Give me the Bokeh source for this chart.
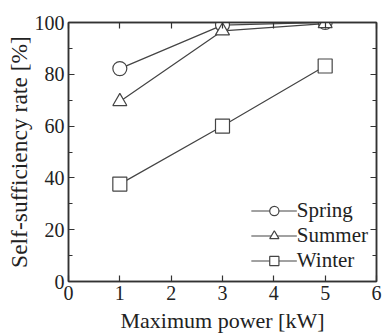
from bokeh.plotting import figure
from bokeh.models import LinearAxis, FixedTicker, Range1d, Legend, CustomJSTickFormatter
from bokeh.embed import file_html
from bokeh.resources import INLINE

power = [1, 3, 5]
spring = [82.2, 99.0, 100.0]
summer = [69.5, 96.8, 99.6]
winter = [37.6, 60.0, 83.2]
x_ticks = [0, 1, 2, 3, 4, 5, 6]
y_ticks = [0, 20, 40, 60, 80, 100]

FONT = "Liberation Serif"
LC = "#444444"
AC = "#333333"

p = figure(width=382, height=335, output_backend="svg", toolbar_location=None,
           x_range=Range1d(0, 6), y_range=Range1d(0, 100),
           min_border_left=68, min_border_right=6, min_border_top=22, min_border_bottom=51,
           x_axis_label="Maximum power [kW]", y_axis_label="Self-sufficiency rate [%]")
p.grid.visible = False
p.outline_line_color = AC
p.outline_line_width = 1.5
p.background_fill_color = "white"
p.border_fill_color = "white"

def style(ax, labels=True, minor=False):
    ax.major_tick_in = 6
    ax.major_tick_out = 0
    ax.minor_tick_in = 4 if minor else 0
    ax.minor_tick_out = 0
    ax.axis_line_color = AC
    ax.axis_line_width = 1.5
    ax.major_tick_line_color = AC
    ax.minor_tick_line_color = AC
    ax.major_tick_line_width = 1.2
    ax.minor_tick_line_width = 1.2
    ax.major_label_text_font = FONT
    ax.major_label_text_font_size = "20px"
    ax.major_label_text_color = "#222222"
    ax.axis_label_text_font = FONT
    ax.axis_label_text_font_size = "22px"
    ax.axis_label_text_font_style = "normal"
    ax.axis_label_text_color = "#222222"
    if not labels:
        ax.formatter = CustomJSTickFormatter(code="return '';")
        ax.major_label_standoff = 0

p.xaxis.ticker = FixedTicker(ticks=x_ticks)
p.yaxis.ticker = FixedTicker(ticks=y_ticks, minor_ticks=list(range(0, 101, 10)))
style(p.xaxis[0])
style(p.yaxis[0], minor=True)
p.yaxis.axis_label_text_font_size = "23.5px"
p.xaxis.major_label_standoff = 4
p.yaxis.major_label_standoff = 4
p.xaxis.axis_label_standoff = 5
p.yaxis.axis_label_standoff = 0

top = LinearAxis(ticker=FixedTicker(ticks=x_ticks))
style(top, labels=False)
p.add_layout(top, "above")
right = LinearAxis(ticker=FixedTicker(ticks=y_ticks, minor_ticks=list(range(0, 101, 10))))
style(right, labels=False, minor=True)
p.add_layout(right, "right")

series = [("Spring", spring, "circle"), ("Summer", summer, "triangle"), ("Winter", winter, "square")]
items = []
for name, vals, mk in series:
    l = p.line(power, vals, line_color=LC, line_width=1.2)
    s = p.scatter(power, vals, marker=mk, size=14, fill_color="white", line_color=LC, line_width=1.2)
    items.append((name, [l, s]))

leg = Legend(items=items, location="bottom_right")
leg.border_line_color = None
leg.background_fill_alpha = 0
leg.label_text_font = FONT
leg.label_text_font_size = "21px"
leg.label_text_color = "#222222"
leg.glyph_width = 46
leg.glyph_height = 23
leg.label_standoff = 0
leg.spacing = 0
leg.padding = 4
leg.margin = 8
leg.label_height = 23
p.add_layout(leg, "center")

open("out.html", "w").write(file_html(p, INLINE))
